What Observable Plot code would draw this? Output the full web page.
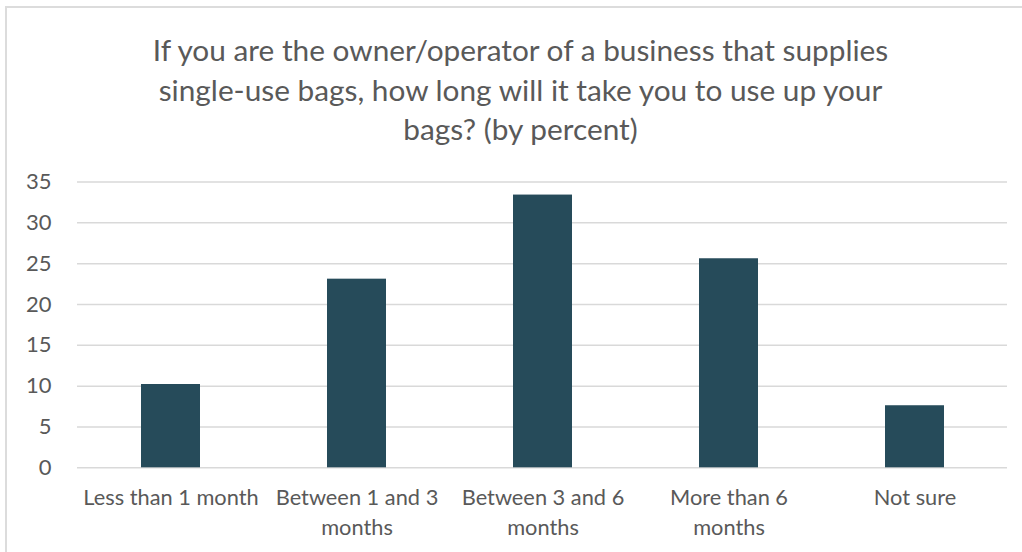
<!DOCTYPE html>
<html>
<head>
<meta charset="utf-8">
<script src="https://cdn.jsdelivr.net/npm/d3@7"></script>
<script src="https://cdn.jsdelivr.net/npm/@observablehq/plot@0.6"></script>
<style>
  html, body { margin: 0; padding: 0; background: #fff; overflow: hidden; }
  #frame { position: absolute; left: 5px; top: 6px; width: 1040px; height: 570px; border: 2px solid #dcdcdc; box-sizing: border-box; }
  #title { position: absolute; left: 0; top: 30px; width: 1041px; text-align: center; font-family: Lato, sans-serif; font-size: 29.8px; line-height: 39.5px; color: #595959; }
  #chart { position: absolute; left: 0; top: 160px; }
</style>
</head>
<body>
<div id="frame"></div>
<div id="title">If you are the owner/operator of a business that supplies<br>single-use bags, how long will it take you to use up your<br>bags? (by percent)</div>
<div id="chart"></div>
<script>
const categories = ["Less than 1 month", "Between 1 and 3 months", "Between 3 and 6 months", "More than 6 months", "Not sure"];
const values = [10.2, 23.1, 33.4, 25.6, 7.6];
const tickLabels = ["Less than 1 month", "Between 1 and 3\nmonths", "Between 3 and 6\nmonths", "More than 6\nmonths", "Not sure"];
const yTicks = [0, 5, 10, 15, 20, 25, 30, 35];

const data = categories.map((c, i) => ({category: c, value: values[i]}));

const chart = Plot.plot({
  width: 1022,
  height: 392,
  marginTop: 21.5,
  marginBottom: 84.7,
  marginLeft: 77,
  marginRight: 15,
  style: {fontFamily: "Lato, sans-serif", color: "#595959", background: "transparent"},
  x: {domain: categories, paddingInner: 0.683, paddingOuter: 0.3415, label: null},
  y: {domain: [0, 35], label: null},
  marks: [
    Plot.gridY(yTicks, {stroke: "#d9d9d9", strokeOpacity: 1, strokeWidth: 1.5}),
    Plot.barY(data, {x: "category", y: "value", fill: "#264b5a"}),
    Plot.axisY(yTicks, {tickSize: 0, tickPadding: 26, fontSize: 22, fill: "#595959"}),
    Plot.axisX({tickSize: 0, tickPadding: 16, fontSize: 21.8, lineHeight: 1.37, fill: "#595959",
      tickFormat: d => tickLabels[categories.indexOf(d)]})
  ]
});
document.getElementById("chart").appendChild(chart);
</script>
</body>
</html>
